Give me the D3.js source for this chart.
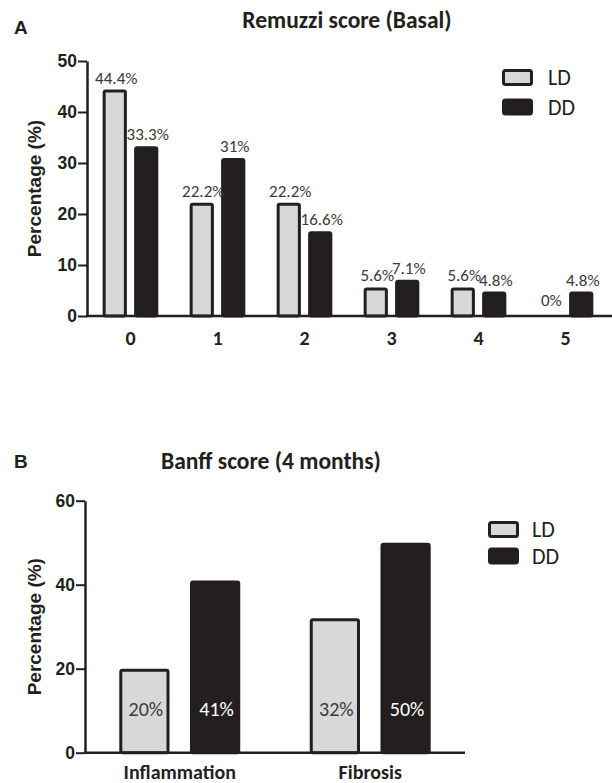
<!DOCTYPE html>
<html>
<head>
<meta charset="utf-8">
<script src="https://cdn.jsdelivr.net/npm/d3@7"></script>
<style>
  body { margin: 0; background: #fff; }
  svg { display: block; }
</style>
</head>
<body>
<script>
// datos del panel A (Remuzzi)
var remuzziScores = ["0", "1", "2", "3", "4", "5"];
var remuzziLD = [44.4, 22.2, 22.2, 5.6, 5.6, 0];
var remuzziDD = [33.3, 31, 16.6, 7.1, 4.8, 4.8];
var remuzziTicks = [0, 10, 20, 30, 40, 50];

// datos del panel B (Banff)
var banffCategories = ["Inflammation", "Fibrosis"];
var banffLD = [20, 32];
var banffDD = [41, 50];
var banffTicks = [0, 20, 40, 60];

var groups = ["LD", "DD"];

var dark = "#231f20";
var light = "#d7d8da";
var labelFont = "Carlito, Calibri, Lato, sans-serif";
var axisFont = "'Liberation Sans', Arial, sans-serif";

var svg = d3.select("body").append("svg")
  .attr("width", 612)
  .attr("height", 783);

function drawPanel(p) {
  var g = svg.append("g");

  var y = d3.scaleLinear().domain([0, p.ticks[p.ticks.length - 1]]).range([p.y0, p.y1]);
  var x0 = d3.scaleBand().domain(p.categories).range([p.xl, p.xr])
    .paddingInner(p.padIn).paddingOuter(p.padOut);
  var x1 = d3.scaleBand().domain(groups).range([0, x0.bandwidth()]).paddingInner(p.subPad);

  var rows = [];
  p.categories.forEach(function(c, i) {
    rows.push({ cat: c, grp: "LD", v: p.ld[i] });
    rows.push({ cat: c, grp: "DD", v: p.dd[i] });
  });

  // barras
  g.selectAll("rect.bar")
    .data(rows.filter(function(d) { return d.v > 0; }))
    .enter().append("rect")
    .attr("class", "bar")
    .attr("x", function(d) { return x0(d.cat) + x1(d.grp) + 1.5; })
    .attr("width", x1.bandwidth() - 3)
    .attr("y", function(d) { return y(d.v) + 1.5; })
    .attr("height", function(d) { return y(0) - y(d.v) - 1.5; })
    .attr("rx", 1.5)
    .style("fill", function(d) { return d.grp == "LD" ? light : dark; })
    .style("stroke", dark)
    .style("stroke-width", 3);

  // etiquetas de porcentaje
  g.selectAll("text.val")
    .data(rows)
    .enter().append("text")
    .attr("class", "val")
    .attr("x", function(d) { return x0(d.cat) + x1(d.grp) + x1.bandwidth() / 2 + 1.5; })
    .attr("y", function(d) { return p.inside ? y(0) - p.inside : y(d.v) - (d.v == 0 ? 10 : p.above); })
    .attr("text-anchor", "middle")
    .style("font-family", labelFont)
    .style("font-size", p.valSize + "px")
    .style("fill", function(d) { return p.inside && d.grp == "DD" ? "#fff" : "#3a3a3a"; })
    .text(function(d) { return d.v + "%"; });

  // eje Y
  var yAxis = g.append("g")
    .attr("transform", "translate(" + p.xl + ",0)")
    .call(d3.axisLeft(y).tickValues(p.ticks).tickSize(9).tickSizeOuter(0).tickPadding(1));
  yAxis.select(".domain").style("stroke", dark).style("stroke-width", 2.5);
  yAxis.selectAll(".tick line").style("stroke", dark).style("stroke-width", 2);
  yAxis.selectAll(".tick text")
    .style("font-family", axisFont)
    .style("font-weight", "bold")
    .style("font-size", "17.5px")
    .style("fill", dark);

  // eje X
  var xAxis = g.append("g")
    .attr("transform", "translate(0," + p.y0 + ")")
    .call(d3.axisBottom(x0).tickSize(0).tickPadding(p.xPad));
  xAxis.select(".domain").remove();
  xAxis.selectAll(".tick text")
    .style("font-family", labelFont)
    .style("font-weight", "bold")
    .style("font-size", p.xSize + "px")
    .style("fill", dark);
  g.append("line")
    .attr("x1", p.xl - 1).attr("x2", p.axisEnd)
    .attr("y1", p.y0).attr("y2", p.y0)
    .style("stroke", dark).style("stroke-width", 2.5);

  // titulo del eje Y
  g.append("text")
    .attr("transform", "translate(41," + (p.y0 + p.y1) / 2 + ") rotate(-90)")
    .attr("text-anchor", "middle")
    .style("font-family", axisFont)
    .style("font-weight", "bold")
    .style("font-size", "19px")
    .style("fill", dark)
    .text("Percentage (%)");

  // letra del panel y titulo
  g.append("text")
    .attr("x", 14).attr("y", p.letterY)
    .style("font-family", axisFont)
    .style("font-weight", "bold")
    .style("font-size", "19px")
    .style("fill", dark)
    .text(p.letter);
  g.append("text")
    .attr("x", p.titleX).attr("y", p.titleY)
    .attr("text-anchor", "middle")
    .style("font-family", labelFont)
    .style("font-weight", "bold")
    .style("font-size", "23.5px")
    .style("fill", dark)
    .text(p.title);

  // leyenda
  var leg = g.selectAll("g.leg")
    .data(groups)
    .enter().append("g")
    .attr("class", "leg")
    .attr("transform", function(d, i) { return "translate(" + p.legX + "," + (p.legY + i * p.legStep) + ")"; });
  leg.append("rect")
    .attr("x", 1.5).attr("y", 1.5)
    .attr("width", 28).attr("height", 14)
    .attr("rx", 2)
    .style("fill", function(d) { return d == "LD" ? light : dark; })
    .style("stroke", dark)
    .style("stroke-width", 3);
  leg.append("text")
    .attr("x", p.legText)
    .attr("y", 16)
    .style("font-family", labelFont)
    .style("font-size", "22px")
    .style("fill", dark)
    .text(function(d) { return d; });
}

drawPanel({
  letter: "A", letterY: 34,
  title: "Remuzzi score (Basal)", titleX: 347, titleY: 28,
  categories: remuzziScores, ld: remuzziLD, dd: remuzziDD, ticks: remuzziTicks,
  y0: 316, y1: 61, xl: 87, xr: 609, axisEnd: 612,
  padIn: 0.36, padOut: 0.18, subPad: 0.23,
  valSize: 17, above: 6, xSize: 20, xPad: 15,
  legX: 502, legY: 69, legStep: 29.5, legText: 46
});

drawPanel({
  letter: "B", letterY: 468,
  title: "Banff score (4 months)", titleX: 271, titleY: 469,
  categories: banffCategories, ld: banffLD, dd: banffDD, ticks: banffTicks,
  y0: 752.7, y1: 500.7, xl: 85, xr: 465, axisEnd: 465,
  padIn: 0.365, padOut: 0.18, subPad: 0.29,
  valSize: 20, inside: 37, xSize: 20, xPad: 12,
  legX: 488, legY: 521, legStep: 26.5, legText: 44
});
</script>
</body>
</html>
